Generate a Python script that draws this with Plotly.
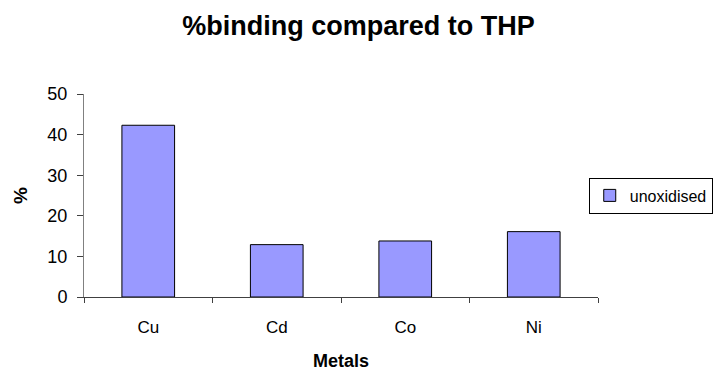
import plotly.graph_objects as go

categories = ["Cu", "Cd", "Co", "Ni"]
unoxidised = [42.3, 12.9, 13.8, 16.1]
y_ticks = [0, 10, 20, 30, 40, 50]

fig = go.Figure()
fig.add_trace(go.Bar(
    x=categories, y=unoxidised, name="unoxidised",
    marker=dict(color="#9999FF", line=dict(color="black", width=1)),
    width=0.41,
))

font = "Liberation Sans, Arial, sans-serif"
# the page body adds an 8px offset, so the figure is 8px smaller on each side
fig.update_layout(
    width=717, height=367,
    margin=dict(l=76, r=122, t=86, b=78),
    paper_bgcolor="white", plot_bgcolor="white",
    font=dict(family=font, size=17, color="black"),
    title=dict(text="<b>%binding compared to THP</b>", x=0.489, xanchor="center",
               xref="container", yref="container",
               y=0.951, yanchor="middle", font=dict(size=27, family=font)),
    showlegend=True,
    legend=dict(x=0.982, xanchor="left", y=0.5, yanchor="middle",
                bordercolor="black", borderwidth=1, bgcolor="white",
                font=dict(size=16, family=font)),
)
fig.update_xaxes(
    automargin=False,
    showline=True, linecolor="#404040", linewidth=1,
    ticks="outside", tickson="boundaries", ticklen=5, tickcolor="#404040",
    showgrid=False, zeroline=False, ticklabelstandoff=15,
    tickfont=dict(size=17),
    title=dict(text="<b>Metals</b>", font=dict(size=18), standoff=17),
)
fig.update_yaxes(
    automargin=False,
    range=[0, 50], tickvals=y_ticks, ticktext=[str(v) for v in y_ticks],
    showline=True, linecolor="#808080", linewidth=1,
    ticks="outside", ticklen=6, tickcolor="#404040",
    showgrid=False, zeroline=False, tickfont=dict(size=18),
    ticklabelstandoff=6,
    title=dict(text="<b>%</b>", font=dict(size=19), standoff=14),
)
fig.write_html("out.html")
